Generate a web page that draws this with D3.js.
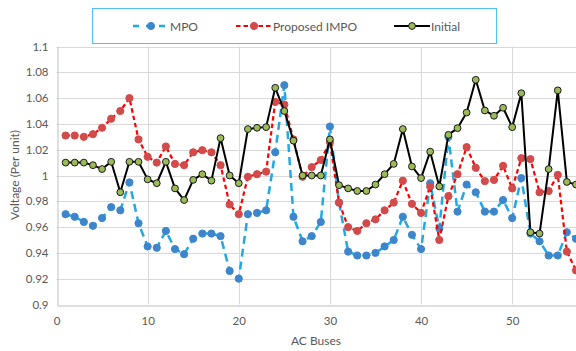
<!DOCTYPE html>
<html>
<head>
<meta charset="utf-8">
<script src="https://cdn.jsdelivr.net/npm/d3@7/dist/d3.min.js"></script>
<style>
  html, body { margin: 0; padding: 0; background: #fff; }
  svg { display: block; }
  text { font-family: Lato, "Liberation Sans", sans-serif; fill: #595959; }
</style>
</head>
<body>
<svg id="chart" width="576" height="351"></svg>
<script>
// Bus numbers 1..57
const buses = d3.range(1, 58);

const mpo = [
  0.970, 0.968, 0.964, 0.961, 0.967, 0.9755, 0.973, 0.9946, 0.963, 0.945,
  0.944, 0.957, 0.943, 0.939, 0.951, 0.955, 0.955, 0.953, 0.926, 0.920,
  0.970, 0.971, 0.973, 1.018, 1.070, 0.968, 0.949, 0.953, 0.964, 1.038,
  0.979, 0.941, 0.938, 0.938, 0.940, 0.945, 0.950, 0.968, 0.954, 0.943,
  0.994, 0.959, 1.030, 0.972, 0.993, 0.987, 0.972, 0.972, 0.981, 0.967,
  0.998, 0.955, 0.949, 0.938, 0.938, 0.956, 0.951
];

const proposedImpo = [
  1.031, 1.031, 1.030, 1.032, 1.037, 1.044, 1.050, 1.060, 1.028, 1.0145,
  1.010, 1.0225, 1.009, 1.008, 1.018, 1.0196, 1.018, 1.008, 0.9775, 0.970,
  0.999, 1.001, 1.003, 1.057, 1.055, 1.028, 0.999, 1.0065, 1.012, 1.026,
  0.979, 0.960, 0.957, 0.963, 0.966, 0.973, 0.979, 0.996, 0.978, 0.971,
  0.9915, 0.950, 0.984, 1.001, 1.022, 1.006, 0.9956, 0.9966, 1.0075, 0.990,
  1.0134, 1.0127, 0.987, 0.988, 1.0005, 0.941, 0.9264
];

const initial = [
  1.010, 1.010, 1.010, 1.008, 1.005, 1.0106, 0.987, 1.0106, 1.0106, 0.997,
  0.994, 1.0106, 0.990, 0.981, 0.9966, 1.001, 0.996, 1.029, 1.000, 0.994,
  1.036, 1.037, 1.0375, 1.068, 1.050, 1.027, 1.000, 1.000, 1.000, 1.028,
  0.9925, 0.990, 0.988, 0.988, 0.993, 1.001, 1.009, 1.036, 1.007, 0.998,
  1.0185, 0.9915, 1.0315, 1.0367, 1.0488, 1.0742, 1.0504, 1.0463, 1.0525, 1.0375,
  1.0638, 0.956, 0.955, 1.005, 1.066, 0.995, 0.993
];

const xTicks = [0, 10, 20, 30, 40, 50];
const yTicks = [0.9, 0.92, 0.94, 0.96, 0.98, 1, 1.02, 1.04, 1.06, 1.08, 1.1];
const seriesNames = ["MPO", "Proposed IMPO", "Initial"];

const series = [
  { name: seriesNames[0], values: mpo, line: "#1fa9e6", width: 2.5, dash: "8,5",
    fill: "#3d86cc", stroke: "#3d86cc", r: 3.6 },
  { name: seriesNames[1], values: proposedImpo, line: "#ff0000", width: 2.2, dash: "4.5,3",
    fill: "#d24a4a", stroke: "#d24a4a", r: 3.6 },
  { name: seriesNames[2], values: initial, line: "#000000", width: 2, dash: null,
    fill: "#9bbb59", stroke: "#1a1a1a", r: 3.4 }
];

const svg = d3.select("#chart");

const x = d3.scaleLinear().domain([0, 57]).range([56.5, 576]);
const y = d3.scaleLinear().domain([0.9, 1.1]).range([304.5, 46.5]);

// Gridlines
const grid = svg.append("g");
grid.selectAll("line.h").data(yTicks.slice(1)).join("line")
  .attr("x1", x(0)).attr("x2", x(57))
  .attr("y1", d => Math.round(y(d)) + 0.5).attr("y2", d => Math.round(y(d)) + 0.5)
  .attr("stroke", "#d9d9d9").attr("stroke-width", 1);
grid.selectAll("line.v").data(xTicks.slice(1)).join("line")
  .attr("y1", y(1.1)).attr("y2", y(0.9))
  .attr("x1", d => Math.round(x(d)) + 0.5).attr("x2", d => Math.round(x(d)) + 0.5)
  .attr("stroke", "#d9d9d9").attr("stroke-width", 1);

// Axes
const xAxis = d3.axisBottom(x).tickValues(xTicks).tickSize(0).tickPadding(11)
  .tickFormat(d3.format("d"));
const gx = svg.append("g").attr("transform", `translate(0,${Math.round(y(0.9)) + 0.5})`).call(xAxis);
gx.select(".domain").attr("stroke", "#bfbfbf");
gx.selectAll("text").attr("font-size", 11.5).attr("fill", "#595959")
  .attr("font-family", "Lato, 'Liberation Sans', sans-serif");

const yAxis = d3.axisLeft(y).tickValues(yTicks).tickSize(0).tickPadding(9)
  .tickFormat(d => d3.format("")(+d.toFixed(2)));
const gy = svg.append("g").attr("transform", `translate(${Math.round(x(0)) + 0.5},0)`).call(yAxis);
gy.select(".domain").attr("stroke", "#bfbfbf");
gy.selectAll("text").attr("font-size", 11.5).attr("fill", "#595959")
  .attr("font-family", "Lato, 'Liberation Sans', sans-serif");

// Axis titles
svg.append("text").attr("x", 316).attr("y", 345).attr("text-anchor", "middle")
  .attr("font-size", 12).text("AC Buses");
svg.append("text").attr("transform", "translate(19,175) rotate(-90)")
  .attr("text-anchor", "middle").attr("font-size", 12).text("Voltage (Per unit)");

// Series lines and markers
const lineGen = d3.line().x((d, i) => x(buses[i])).y(d => y(d));
series.forEach(s => {
  const g = svg.append("g");
  g.append("path").datum(s.values)
    .attr("d", lineGen).attr("fill", "none")
    .attr("stroke", s.line).attr("stroke-width", s.width)
    .attr("stroke-dasharray", s.dash).attr("stroke-linejoin", "round");
  g.selectAll("circle").data(s.values).join("circle")
    .attr("cx", (d, i) => x(buses[i])).attr("cy", d => y(d)).attr("r", s.r)
    .attr("fill", s.fill).attr("stroke", s.stroke).attr("stroke-width", 1);
});

// Legend
const legend = svg.append("g");
legend.append("rect").attr("x", 92.5).attr("y", 8.5).attr("width", 404).attr("height", 35)
  .attr("fill", "#fff").attr("stroke", "#4fc3ef").attr("stroke-width", 1);
const legendX = [133, 236, 394];
series.forEach((s, i) => {
  const g = legend.append("g").attr("transform", `translate(${legendX[i]},26)`);
  g.append("line").attr("x1", 0).attr("x2", 36).attr("y1", 0).attr("y2", 0)
    .attr("stroke", s.line).attr("stroke-width", s.width)
    .attr("stroke-dasharray", i === 0 ? "6,7" : s.dash);
  g.append("circle").attr("cx", 18).attr("cy", 0).attr("r", s.r)
    .attr("fill", s.fill).attr("stroke", s.stroke).attr("stroke-width", 1);
  g.append("text").attr("x", 37).attr("y", 4.5).attr("font-size", 12).text(s.name);
});
</script>
</body>
</html>
